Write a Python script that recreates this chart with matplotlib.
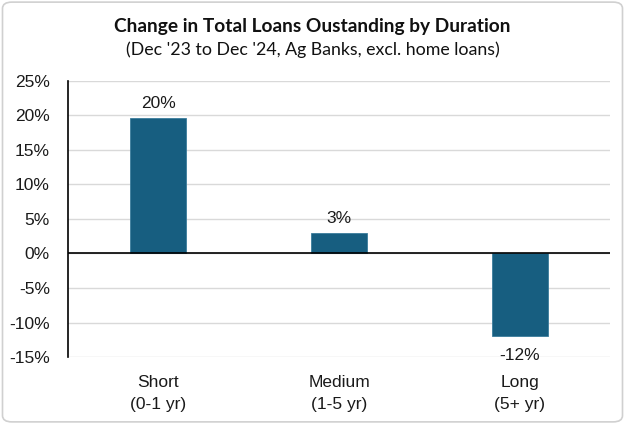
import matplotlib
matplotlib.use("Agg")
import matplotlib.pyplot as plt
from matplotlib.patches import FancyBboxPatch
from matplotlib.ticker import FuncFormatter, MultipleLocator

categories = ["Short\n(0-1 yr)", "Medium\n(1-5 yr)", "Long\n(5+ yr)"]
values = [19.7, 3.0, -11.9]
labels = ["20%", "3%", "-12%"]

bar_color = "#175e80"
FS = 12.5

fig = plt.figure(figsize=(6.25, 4.24), dpi=100)
ax = fig.add_axes([0.1088, 0.158, 0.9760 - 0.1088, 0.809 - 0.158])

x = range(len(categories))
bars = ax.bar(x, values, width=0.31, color=bar_color, edgecolor="#3b7c9c", linewidth=0.6, zorder=3)

ax.set_ylim(-15, 25)
ax.set_xlim(-0.5, 2.5)
ax.yaxis.set_major_locator(MultipleLocator(5))
ax.yaxis.set_major_formatter(FuncFormatter(lambda v, p: f"{int(round(v))}%"))
ax.grid(axis="y", color="#d9d9d9", linewidth=1.0, zorder=0)
ax.axhline(0, color="black", linewidth=1.2, zorder=4)

for s in ["top", "right", "bottom"]:
    ax.spines[s].set_visible(False)
ax.spines["left"].set_color("black")
ax.spines["left"].set_linewidth(1.2)

ax.tick_params(axis="y", length=0, labelsize=FS, pad=13, labelcolor="#1a1a1a")
ax.tick_params(axis="x", length=0, labelsize=FS, pad=13, labelcolor="#1a1a1a")
for t in ax.get_yticklabels():
    t.set_fontfamily("Liberation Sans")
ax.set_xticks(list(x))
ax.set_xticklabels(categories, fontfamily="Liberation Sans", linespacing=1.55)

for i, (v, lab) in enumerate(zip(values, labels)):
    if v >= 0:
        ax.annotate(lab, (i, v), xytext=(0, 5), textcoords="offset points",
                    ha="center", va="bottom", fontsize=FS, fontfamily="Liberation Sans", color="#1a1a1a")
    else:
        ax.annotate(lab, (i, v), xytext=(0, -9), textcoords="offset points",
                    ha="center", va="top", fontsize=FS, fontfamily="Liberation Sans", color="#1a1a1a")

fig.text(0.5, 0.938, "Change in Total Loans Oustanding by Duration", ha="center", va="center",
         fontsize=13.8, fontweight="bold", fontfamily="Lato", color="#111111")
fig.text(0.5, 0.882, "(Dec '23 to Dec '24, Ag Banks, excl. home loans)", ha="center", va="center",
         fontsize=12.8, fontfamily="Lato", color="#111111")

border = FancyBboxPatch((0.004, 0.005), 0.992, 0.99, boxstyle="round,pad=0,rounding_size=0.015",
                        transform=fig.transFigure, fill=False, edgecolor="#d0d0d0", linewidth=1.2)
fig.patches.append(border)

fig.savefig("out.png", dpi=100)
